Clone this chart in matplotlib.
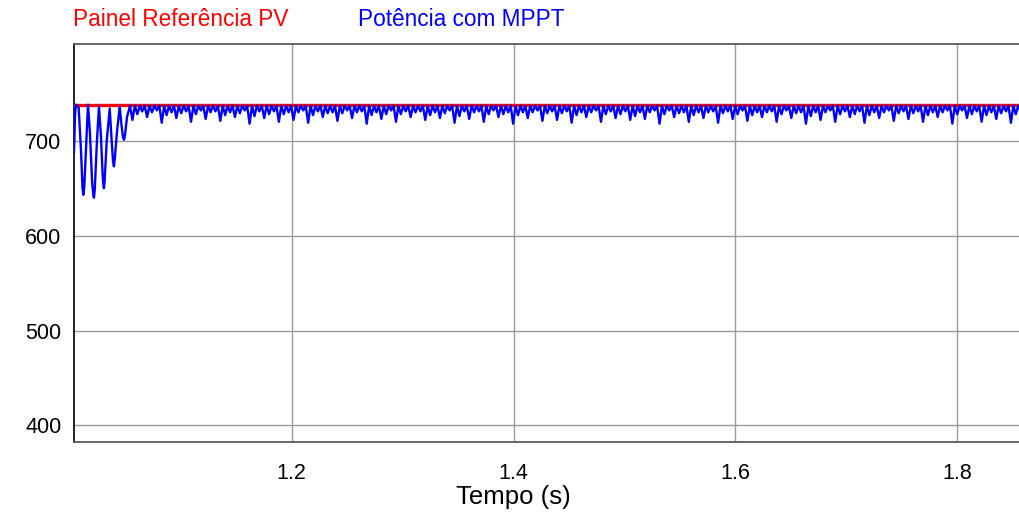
import numpy as np
import matplotlib
matplotlib.use('Agg')
import matplotlib.pyplot as plt

plt.rcParams['font.family'] = ['Liberation Sans', 'DejaVu Sans']

# reference PV panel power (W)
ref_time = [1.0037, 1.857]
ref_power = [738, 738]

# start-up transient of the MPPT power (t, P)
trans_time = [1.0037, 1.0046, 1.0054, 1.0079, 1.0100, 1.0114, 1.0121, 1.0130, 1.0148,
              1.0163, 1.0180, 1.0201, 1.0212, 1.0217, 1.0224, 1.0244, 1.0262, 1.0280,
              1.0296, 1.0303, 1.0307, 1.0313, 1.0332, 1.0359, 1.0374, 1.0389, 1.0397,
              1.0404, 1.0425, 1.0449, 1.0462, 1.0478, 1.0488, 1.0496, 1.0515, 1.0542]
trans_power = [688, 726, 738, 735, 690, 650, 643, 652, 700,
               738, 710, 655, 642, 640, 648, 700, 736, 705,
               662, 652, 650, 657, 700, 734, 705, 678, 673,
               680, 710, 736, 720, 704, 701, 705, 725, 737]

# steady-state ripple: top level and the dip reached in each ripple cycle
ripple_start = 1.0542
ripple_period = 0.0044
ripple_top = 737
ripple_dips = [
    722, 728, 731, 725, 730, 732,
    719, 727, 730, 724, 729, 731,
    720, 728, 732, 723, 730, 731,
    721, 727, 730, 725, 729, 732,
    718, 726, 731, 724, 728, 731,
    720, 728, 730, 722, 730, 732,
    719, 727, 731, 725, 729, 730,
    721, 729, 732, 724, 730, 731,
    718, 727, 730, 723, 728, 732,
    720, 728, 731, 725, 730, 731,
    722, 727, 730, 724, 729, 732,
    719, 726, 731, 723, 730, 731,
    720, 728, 732, 725, 728, 730,
    718, 727, 730, 724, 730, 732,
    721, 729, 731, 722, 729, 731,
    719, 727, 730, 725, 730, 732,
    720, 728, 731, 724, 728, 731,
    722, 726, 730, 723, 730, 732,
    718, 728, 732, 725, 729, 730,
    720, 727, 730, 724, 730, 731,
    719, 729, 731, 723, 728, 732,
    721, 727, 730, 725, 730, 731,
    720, 728, 732, 724, 729, 730,
    718, 726, 730, 722, 730, 732,
    720, 728, 731, 725, 728, 731,
    719, 727, 730, 724, 730, 732,
    721, 729, 731, 723, 729, 731,
    720, 727, 730, 725, 730, 732,
    718, 728, 732, 724, 728, 731,
    720, 727, 730, 723, 729, 731,
    719, 728, 731, 725, 730, 732,
]

x_ticks = [1.2, 1.4, 1.6, 1.8]
y_ticks = [400, 500, 600, 700]

# build the ripple as alternating top / dip points
n = len(ripple_dips)
rip_t = np.empty(2 * n)
rip_p = np.empty(2 * n)
rip_t[0::2] = ripple_start + ripple_period * np.arange(n) + ripple_period / 2
rip_t[1::2] = ripple_start + ripple_period * np.arange(1, n + 1)
rip_p[0::2] = ripple_dips
rip_p[1::2] = ripple_top

mppt_time = np.concatenate([trans_time, rip_t])
mppt_power = np.concatenate([trans_power, rip_p])

fig = plt.figure(figsize=(10.2, 5.16), dpi=100)
ax = fig.add_axes([74 / 1020, 1 - 442 / 516, 1 - 74 / 1020, (442 - 44) / 516])

ax.plot(ref_time, ref_power, color='#ff0000', lw=2.4, zorder=3)
ax.plot(mppt_time, mppt_power, color='#0000ff', lw=1.7, zorder=4)

ax.set_xlim(1.0037, 1.8566)
ax.set_ylim(382.5, 802)
ax.set_xticks(x_ticks)
ax.set_yticks(y_ticks)
ax.set_xticklabels([f'{v:.1f}' for v in x_ticks])
ax.tick_params(length=0, labelsize=15.5, colors='black')
ax.tick_params(axis='x', pad=15)
ax.tick_params(axis='y', pad=9)
ax.grid(True, color='#9a9a9a', lw=1.0)
ax.set_axisbelow(True)

for side in ['top', 'bottom']:
    ax.spines[side].set_color('#5a5a5a')
    ax.spines[side].set_linewidth(1.3)
ax.spines['left'].set_color('#111111')
ax.spines['left'].set_linewidth(1.3)
ax.spines['right'].set_visible(False)

ax.set_xlabel('Tempo (s)', fontsize=18.5)
ax.xaxis.set_label_coords((513 - 74) / (1020 - 74), -(497 - 442) / (442 - 44))
ax.xaxis.label.set_va('center')

fig.text(73 / 1020, 1 - 20 / 516, 'Painel Referência PV', color='#ff0000',
         fontsize=16.3, va='center', ha='left')
fig.text(358 / 1020, 1 - 20 / 516, 'Potência com MPPT', color='#0000ff',
         fontsize=16.3, va='center', ha='left')

fig.savefig('out.png', dpi=100)
